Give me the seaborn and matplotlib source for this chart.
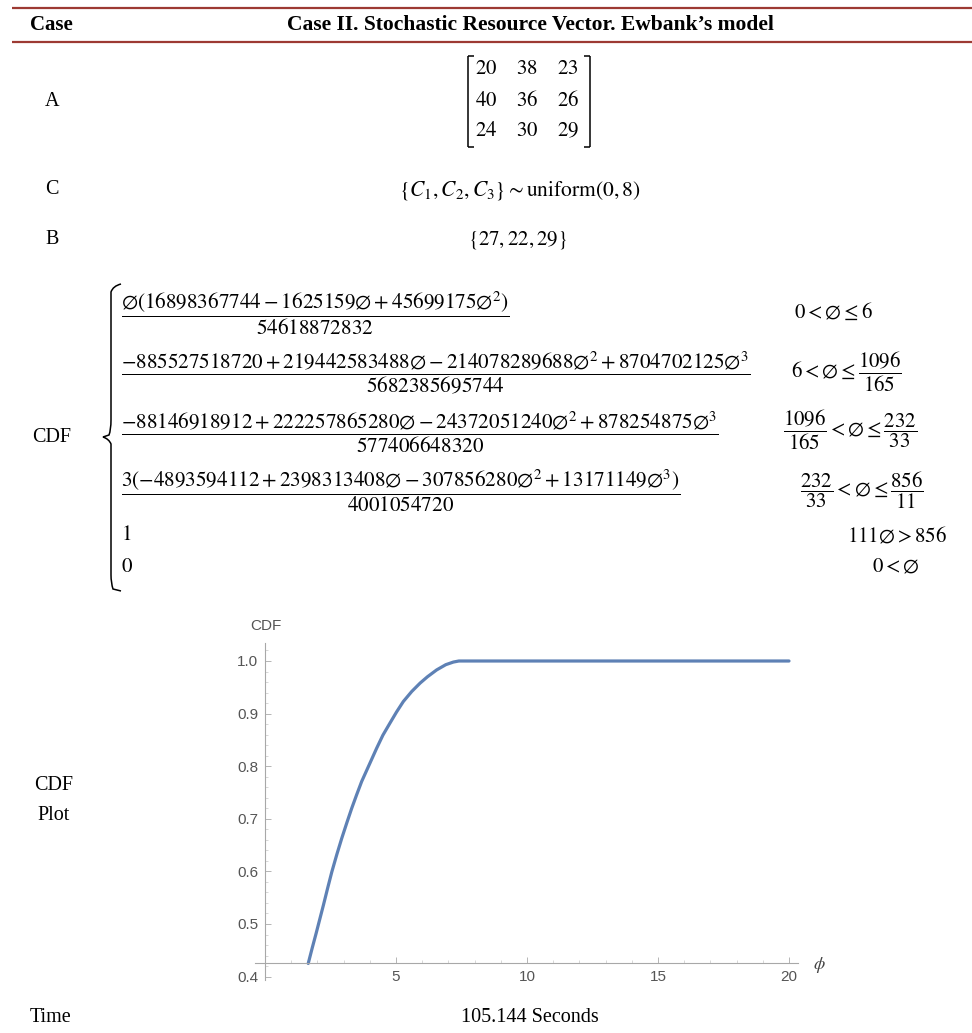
import matplotlib
matplotlib.use("Agg")
import matplotlib.pyplot as plt
from matplotlib.lines import Line2D
from matplotlib.path import Path
from matplotlib.patches import PathPatch
from matplotlib.ticker import MultipleLocator, FormatStrFormatter
import seaborn as sns
import pandas as pd

# ---- table content ----
case_title = "Case II. Stochastic Resource Vector. Ewbank\u2019s model"
row_labels = ["A", "C", "B"]
matrix_a = [[20, 38, 23],
            [40, 36, 26],
            [24, 30, 29]]
c_text = r"$\left\{C_1, C_2, C_3\right\} \sim \mathrm{uniform}\left(0,8\right)$"
b_values = [27, 22, 29]
time_text = "105.144 Seconds"

cdf_pieces = [
    r"$\dfrac{∅\left(16898367744-1625159∅+45699175∅^{2}\right)}{54618872832}$",
    r"$\dfrac{-885527518720+219442583488∅-214078289688∅^{2}+8704702125∅^{3}}{5682385695744}$",
    r"$\dfrac{-88146918912+222257865280∅-24372051240∅^{2}+878254875∅^{3}}{577406648320}$",
    r"$\dfrac{3\left(-4893594112+2398313408∅-307856280∅^{2}+13171149∅^{3}\right)}{4001054720}$",
    r"$1$",
    r"$0$",
]
cdf_conditions = [
    r"$0<∅\leq 6$",
    r"$6<∅\leq\dfrac{1096}{165}$",
    r"$\dfrac{1096}{165}<∅\leq\dfrac{232}{33}$",
    r"$\dfrac{232}{33}<∅\leq\dfrac{856}{11}$",
    r"$111∅>856$",
    r"$0<∅$",
]

# ---- CDF curve ----
phi = [1.65, 1.80, 1.95, 2.09, 2.23, 2.39, 2.55, 2.74, 2.93, 3.12,
       3.31, 3.50, 3.69, 3.98, 4.26, 4.50, 4.77, 5.02, 5.28, 5.60,
       5.92, 6.20, 6.55, 6.90, 7.19, 7.40, 7.60, 8.20, 20.0]
cdf = [0.425, 0.454, 0.482, 0.509, 0.536, 0.568, 0.599, 0.632, 0.663, 0.692,
       0.720, 0.746, 0.771, 0.803, 0.834, 0.859, 0.882, 0.903, 0.923, 0.942,
       0.958, 0.970, 0.983, 0.993, 0.998, 1.000, 1.000, 1.000, 1.000]

sns.set_theme(style="white")
plt.rcParams["font.family"] = ["Liberation Serif", "DejaVu Serif"]
plt.rcParams["mathtext.fontset"] = "stix"

W, H = 972, 1033
fig = plt.figure(figsize=(W / 100, H / 100), dpi=100)
fig.patch.set_facecolor("white")


def fx(x):
    return x / W


def fy(y):
    return 1 - y / H


def put(x, y, s, size=14.5, ha="left", va="center", **kw):
    fig.text(fx(x), fy(y), s, fontsize=size, ha=ha, va=va,
             family=["Liberation Serif", "DejaVu Serif"], color="black", **kw)


def seg(x0, y0, x1, y1, color="black", lw=1.0):
    fig.add_artist(Line2D([fx(x0), fx(x1)], [fy(y0), fy(y1)],
                          transform=fig.transFigure, color=color, lw=lw,
                          solid_capstyle="butt"))


# header rules
rule = "#9d3a33"
seg(12, 8, 972, 8, color=rule, lw=1.6)
seg(12, 42, 972, 42, color=rule, lw=1.6)
put(30, 25, "Case", size=15, weight="bold")
put(530, 25, case_title, size=15.5, ha="center", weight="bold")

# row labels
put(52, 102, row_labels[0], ha="center")
put(52, 190, row_labels[1], ha="center")
put(52, 240, row_labels[2], ha="center")
put(32, 437, "CDF")
put(54, 785, "CDF", ha="center")
put(54, 815, "Plot", ha="center")
put(30, 1018, "Time")
put(530, 1018, time_text, ha="center")

# matrix A
col_x = [486, 527, 568]
row_y = [70, 101, 132]
for r, yy in enumerate(row_y):
    for c, xx in enumerate(col_x):
        put(xx, yy, rf"${matrix_a[r][c]}$", size=15, ha="center")
seg(468, 56, 468, 147, lw=1.1)
seg(468, 56, 474, 56, lw=1.1)
seg(468, 147, 474, 147, lw=1.1)
seg(590, 56, 590, 147, lw=1.1)
seg(584, 56, 590, 56, lw=1.1)
seg(584, 147, 590, 147, lw=1.1)

# C and B rows
put(520, 190, c_text, size=15.5, ha="center")
b_text = r"$\left\{" + ", ".join(str(v) for v in b_values) + r"\right\}$"
put(518, 240, b_text, size=15, ha="center")

# piecewise brace
verts = [(121, 284), (113, 286), (111, 292), (111, 300),
         (111, 420), (111, 430), (109, 435), (103, 437),
         (109, 439), (111, 444), (111, 454),
         (111, 575), (111, 583), (113, 589), (121, 591)]
codes = [Path.MOVETO, Path.CURVE3, Path.CURVE3, Path.LINETO,
         Path.LINETO, Path.CURVE3, Path.CURVE3, Path.LINETO,
         Path.CURVE3, Path.CURVE3, Path.LINETO,
         Path.LINETO, Path.CURVE3, Path.CURVE3, Path.LINETO]
brace = Path([(fx(a), fy(b)) for a, b in verts], codes)
fig.add_artist(PathPatch(brace, transform=fig.transFigure, fill=False,
                         lw=1.1, edgecolor="black"))

piece_y = [313, 373, 432, 491, 535, 567]
for s, yy in zip(cdf_pieces, piece_y):
    put(121, yy, s, size=15.2)

cond_pos = [(794, 312), (791, 372), (783, 430), (800, 490), (847, 536), (872, 567)]
for s, (xx, yy) in zip(cdf_conditions, cond_pos):
    put(xx, yy, s, size=15)

# ---- CDF plot ----
px_x0, px_unit = 265, 26.2
px_y1, px_yunit = 661, 526.0
left_px, right_px, top_px, bottom_px = 255, 798, 643, 985
ax = fig.add_axes([fx(left_px), fy(bottom_px),
                   (right_px - left_px) / W, (bottom_px - top_px) / H])
ax.set_xlim((left_px - px_x0) / px_unit, (right_px - px_x0) / px_unit)
ax.set_ylim(1 - (bottom_px - px_y1) / px_yunit, 1 + (px_y1 - top_px) / px_yunit)
ax.patch.set_alpha(0)

df = pd.DataFrame({"phi": phi, "cdf": cdf})
sns.lineplot(data=df, x="phi", y="cdf", ax=ax, color="#5e81b5",
             linewidth=2.3, estimator=None, sort=False)

axis_gray = "#a8a8a8"
for side in ("top", "right"):
    ax.spines[side].set_visible(False)
ax.spines["left"].set_position(("data", 0))
ax.spines["bottom"].set_position(("data", 1 - (963 - px_y1) / px_yunit))
ax.spines["left"].set_bounds(0.394, ax.get_ylim()[1])
for side in ("left", "bottom"):
    ax.spines[side].set_color(axis_gray)
    ax.spines[side].set_linewidth(0.8)

ax.xaxis.set_minor_locator(MultipleLocator(1))
ax.yaxis.set_minor_locator(MultipleLocator(0.02))
ax.yaxis.set_major_formatter(FormatStrFormatter("%.1f"))
ax.set_xticks([5, 10, 15, 20])
ax.set_yticks([0.4, 0.5, 0.6, 0.7, 0.8, 0.9, 1.0])
ax.tick_params(which="both", bottom=True, left=True, top=False, right=False)
ax.tick_params(which="major", direction="in", length=4.5, width=0.7,
               color="#b5b5b5", labelsize=11, labelcolor="#555555", pad=5)
ax.tick_params(which="minor", direction="in", length=2.5, width=0.5,
               color="#c8c8c8")
for lab in ax.get_xticklabels() + ax.get_yticklabels():
    lab.set_family(["Liberation Sans", "DejaVu Sans"])
ax.set_xlabel("")
ax.set_ylabel("")

fig.text(fx(266), fy(626), "CDF", fontsize=11, color="#555555",
         ha="center", va="center", family=["Liberation Sans", "DejaVu Sans"])
fig.text(fx(819), fy(965), r"$\phi$", fontsize=13, color="#444444",
         ha="center", va="center")

fig.savefig("out.png", dpi=100, facecolor="white")
